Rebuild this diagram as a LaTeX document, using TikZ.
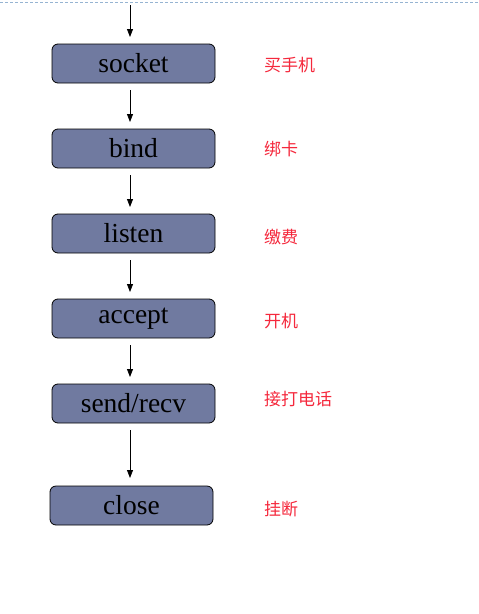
\documentclass[tikz,border=0pt]{standalone}
\usepackage{fontspec}
\setmainfont{Liberation Serif}
\newfontfamily\cjk{Noto Sans CJK SC}
\usetikzlibrary{arrows.meta}
\definecolor{boxfill}{RGB}{112,122,160}
\definecolor{labred}{RGB}{245,40,60}
\definecolor{toplinec}{RGB}{150,180,210}
\tikzset{
  stepbox/.style={draw=black, line width=0.8pt, fill=boxfill, rounded corners=6pt,
    minimum width=163pt, minimum height=39pt, inner sep=0pt, font=\fontsize{27.5}{29}\selectfont},
  lab/.style={anchor=west, text=labred, inner sep=0pt, font=\cjk\fontsize{17}{19}\selectfont},
  flow/.style={-{Triangle[length=8pt,width=6pt]}, line width=0.8pt}
}
\begin{document}
\begin{tikzpicture}[x=1pt,y=-1pt]
\useasboundingbox (0,0) rectangle (479,614);
\fill[white] (0,0) rectangle (479,614);
\coordinate (tl) at (0,2);
\coordinate (tr) at (479,2);
\draw[toplinec, line width=0.8pt, dash pattern=on 3pt off 2pt] (tl) -- (tr);

\node[stepbox] (socket) at (133.5,63.5) {socket};
\node[stepbox] (bind) at (133.5,148.5) {bind};
\node[stepbox] (listen) at (133.5,233.5) {listen};
\node[stepbox] (accept) at (133.5,318.5) {accept};
\node[stepbox] (send) at (133.5,403.5) {send/recv};
\node[stepbox] (close) at (131.5,505.5) {close};

\node[lab] (l1) at (264,65) {买手机};
\node[lab] (l2) at (264,149) {绑卡};
\node[lab] (l3) at (264,237) {缴费};
\node[lab] (l4) at (264,321) {开机};
\node[lab] (l5) at (264,399) {接打电话};
\node[lab] (l6) at (264,509) {挂断};

\coordinate (start) at (130,5);
\coordinate (a0) at (130,37);
\coordinate (b1) at (130,90);
\coordinate (a1) at (130,122);
\coordinate (b2) at (130,175);
\coordinate (a2) at (130,207);
\coordinate (b3) at (130,260);
\coordinate (a3) at (130,292);
\coordinate (b4) at (130,345);
\coordinate (a4) at (130,377);
\coordinate (b5) at (130,430);
\coordinate (a5) at (130,478);
\draw[flow] (start) -- (a0);
\draw[flow] (b1) -- (a1);
\draw[flow] (b2) -- (a2);
\draw[flow] (b3) -- (a3);
\draw[flow] (b4) -- (a4);
\draw[flow] (b5) -- (a5);
\end{tikzpicture}
\end{document}
